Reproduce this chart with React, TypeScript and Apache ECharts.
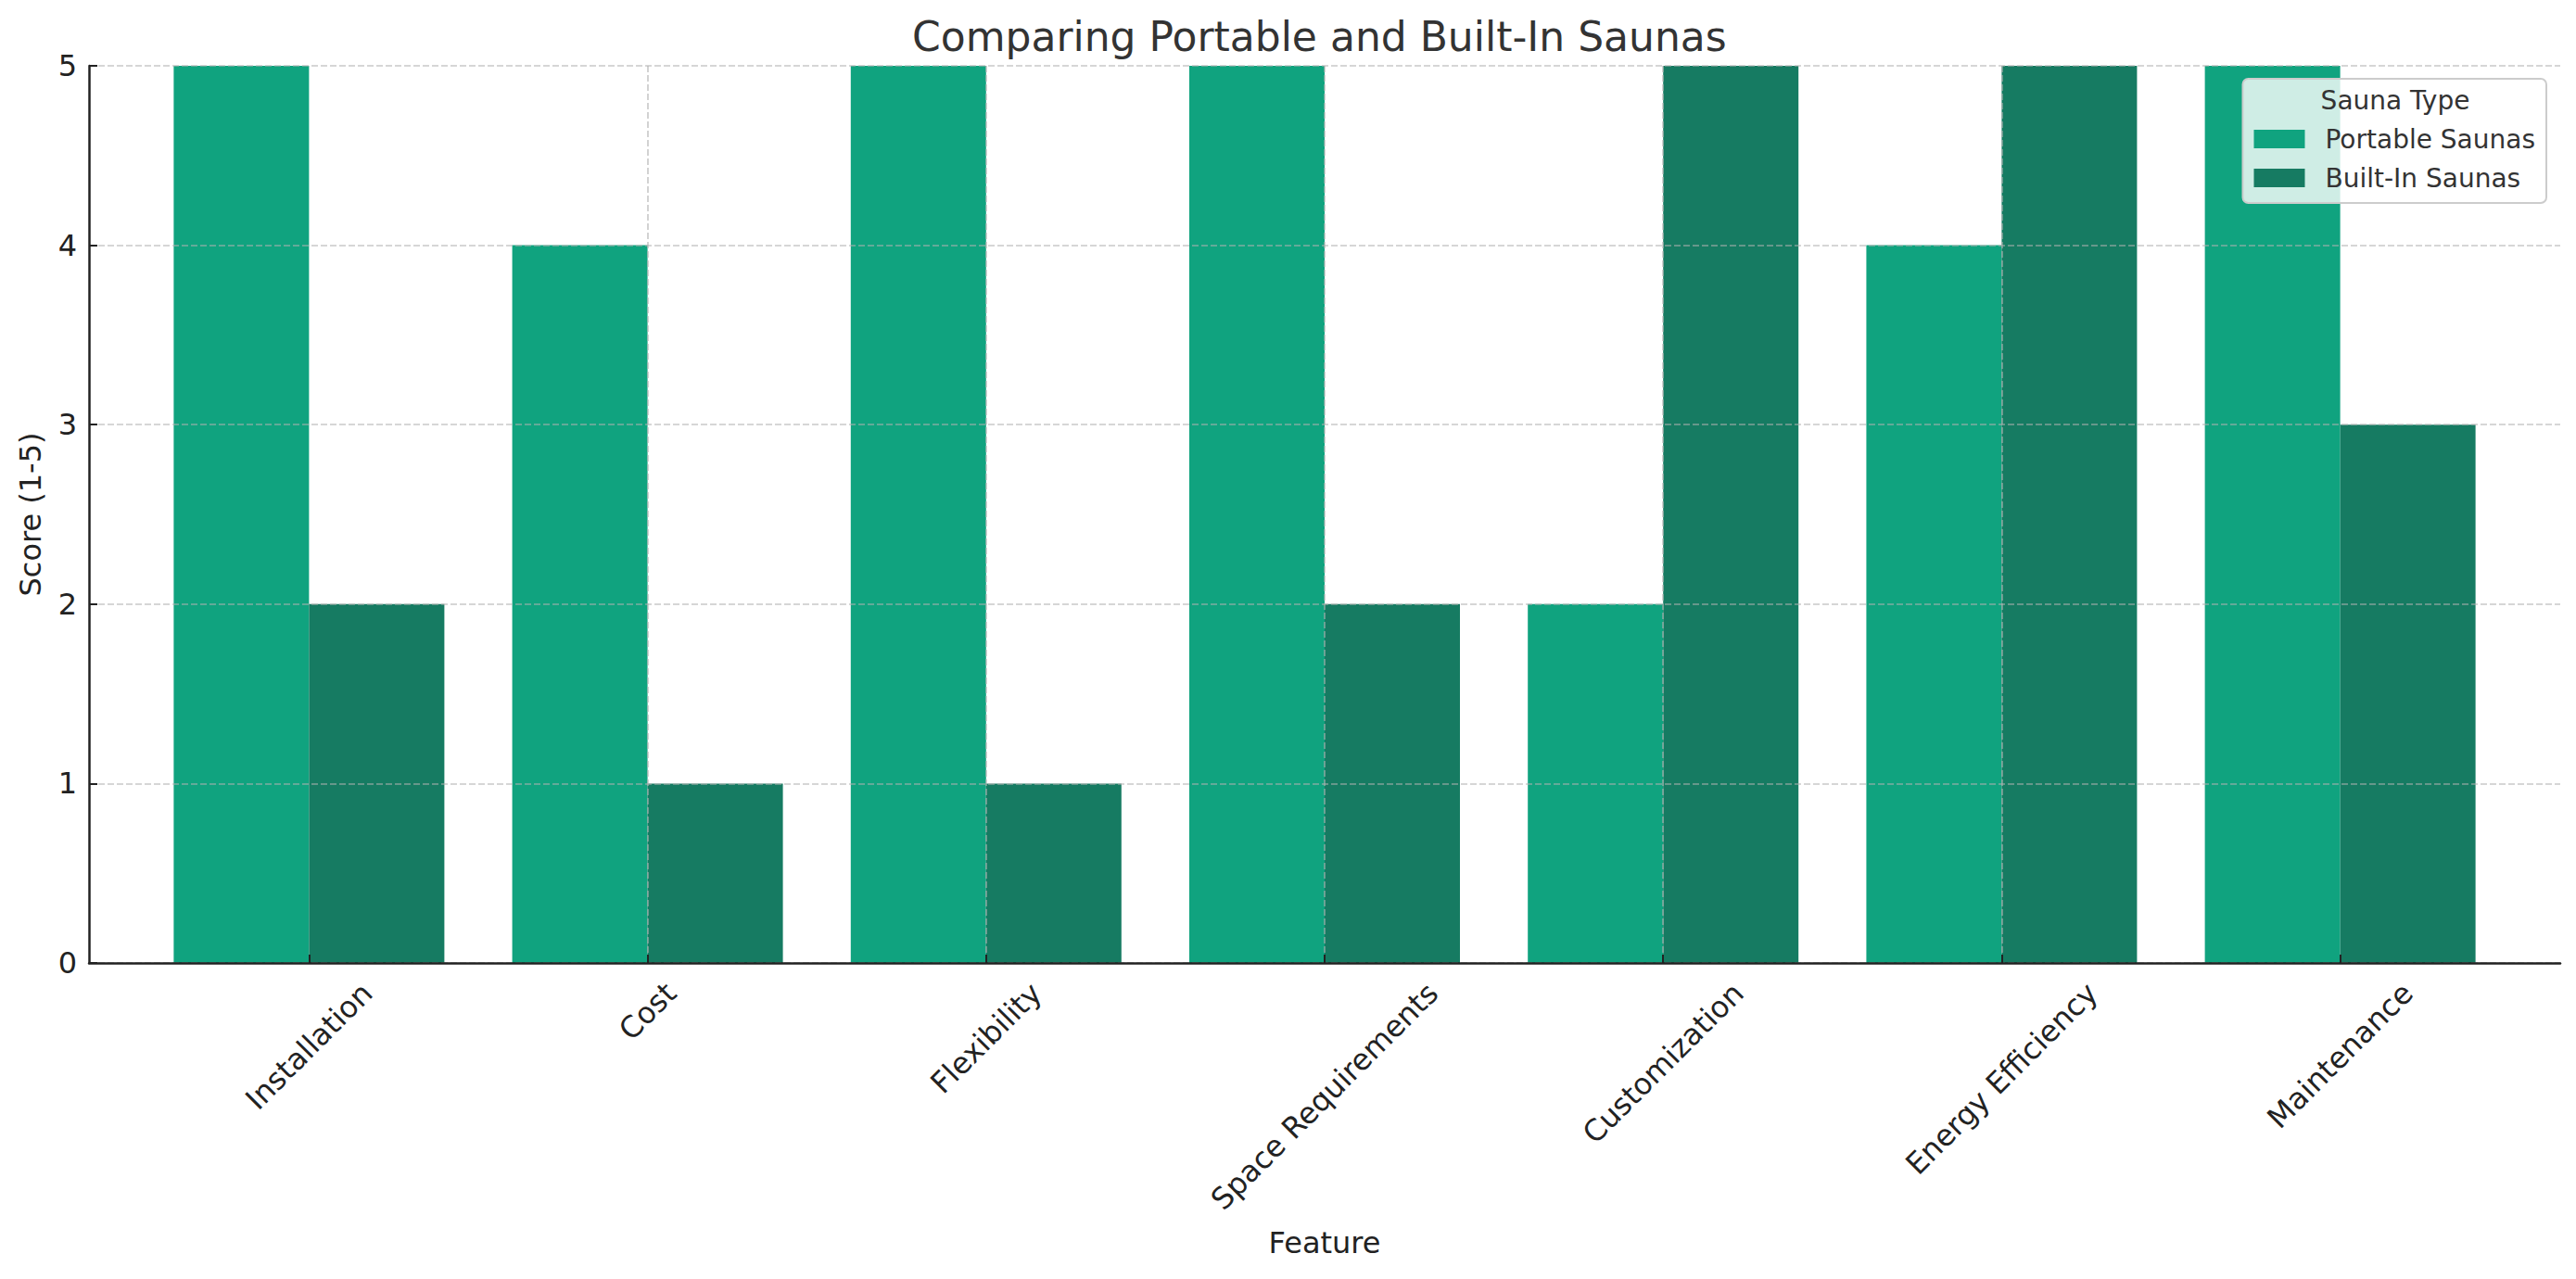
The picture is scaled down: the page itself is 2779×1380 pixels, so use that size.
import React, { useEffect, useRef } from "react";
import * as echarts from "echarts";

const categories = [
  "Installation",
  "Cost",
  "Flexibility",
  "Space Requirements",
  "Customization",
  "Energy Efficiency",
  "Maintenance",
];
const portableScores = [5, 4, 5, 5, 2, 4, 5];
const builtInScores = [2, 1, 1, 2, 5, 5, 3];
const yTicks = [0, 1, 2, 3, 4, 5];
const seriesNames = ["Portable Saunas", "Built-In Saunas"];
const legendTitle = "Sauna Type";
const chartTitle = "Comparing Portable and Built-In Saunas";
const xAxisTitle = "Feature";
const yAxisTitle = "Score (1-5)";

const W = 2779;
const H = 1380;
const FONT = "DejaVu Sans, sans-serif";
const TEXT = "#222222";
const PORTABLE = "#10A37F";
const BUILTIN = "#167B62";

export default function App() {
  const ref = useRef<HTMLDivElement>(null);

  useEffect(() => {
    const el = ref.current;
    if (!el) return;
    const chart = echarts.init(el, null, { renderer: "svg", width: W, height: H });

    const canvas = document.createElement("canvas");
    const ctx = canvas.getContext("2d")!;
    ctx.font = `32px ${FONT}`;
    const widths = categories.map((c) => ctx.measureText(c).width);
    const wMin = Math.min(...widths);
    const labelH = 37;
    const pad = 14;
    const margin = pad + ((wMin + labelH) * Math.SQRT1_2) / 2;
    const rich: Record<string, any> = {};
    categories.forEach((_, i) => {
      const p = 0.5 * (widths[i] - wMin);
      rich["c" + i] = {
        fontSize: 32,
        fontFamily: FONT,
        color: TEXT,
        padding: [p, p, 0, 0],
      };
    });
    const catIdx = categories.map((_, i) => i);

    const axisLineStyle = { color: TEXT, width: 2.5 };
    const tickStyle = { color: TEXT, width: 2 };
    const gridStyle = { color: "#b0b0b0", opacity: 0.7, type: [7, 3], width: 1.6 };

    const option: any = {
      animation: false,
      textStyle: { fontFamily: FONT },
      title: {
        text: chartTitle,
        left: 984,
        top: 17,
        padding: 0,
        textStyle: { fontSize: 44, fontWeight: "normal", color: "#333333", fontFamily: FONT },
      },
      legend: {
        data: seriesNames,
        orient: "vertical",
        align: "left",
        right: 32,
        top: 85,
        padding: [51, 12, 13, 12],
        itemWidth: 55,
        itemHeight: 20,
        itemGap: 14,
        icon: "rect",
        backgroundColor: "rgba(255,255,255,0.8)",
        borderColor: "#cccccc",
        borderWidth: 2,
        borderRadius: 6,
        z: 10,
        formatter: (name: string) => `{s|}{t|${name}}`,
        textStyle: {
          fontSize: 28,
          color: "#333333",
          fontFamily: FONT,
          rich: {
            s: { width: 17, fontSize: 28, fontFamily: FONT },
            t: { fontSize: 28, color: "#333333", fontFamily: FONT, align: "left" },
          },
        },
      },
      grid: {
        left: 96,
        right: 17,
        top: 71,
        bottom: 341,
        containLabel: false,
        outerBoundsMode: "none",
      },
      xAxis: {
        type: "value",
        min: -0.65,
        max: 6.65,
        minInterval: 1,
        maxInterval: 1,
        z: 5,
        name: xAxisTitle,
        nameLocation: "middle",
        nameGap: 286,
        nameMoveOverlap: false,
        nameTextStyle: { fontSize: 32, color: TEXT, fontFamily: FONT },
        axisLine: { show: true, onZero: false, lineStyle: axisLineStyle },
        axisTick: { show: true, inside: true, length: 9, customValues: catIdx, lineStyle: tickStyle },
        axisLabel: {
          customValues: catIdx,
          rotate: 45,
          align: "center",
          verticalAlign: "middle",
          margin,
          fontSize: 32,
          color: TEXT,
          fontFamily: FONT,
          hideOverlap: false,
          formatter: (v: number) => {
            const i = Math.round(v);
            if (Math.abs(v - i) > 1e-6 || i < 0 || i >= categories.length) return "";
            return `{c${i}|${categories[i]}}`;
          },
          rich,
        },
        splitLine: { show: true, showMinLine: false, showMaxLine: false, lineStyle: gridStyle },
      },
      yAxis: {
        type: "value",
        min: yTicks[0],
        max: yTicks[yTicks.length - 1],
        interval: 1,
        z: 5,
        name: yAxisTitle,
        nameLocation: "middle",
        nameGap: 47,
        nameMoveOverlap: false,
        nameTextStyle: { fontSize: 32, color: TEXT, fontFamily: FONT },
        axisLine: { show: true, onZero: false, lineStyle: axisLineStyle },
        axisTick: { show: true, inside: true, length: 9, lineStyle: tickStyle },
        axisLabel: { margin: 13, fontSize: 32, color: TEXT, fontFamily: FONT },
        splitLine: { show: true, lineStyle: gridStyle },
      },
      series: [
        {
          type: "bar",
          name: seriesNames[0],
          data: catIdx.map((i) => [i, portableScores[i]]),
          barWidth: 146,
          barGap: "0%",
          itemStyle: { color: PORTABLE },
          z: 2,
        },
        {
          type: "bar",
          name: seriesNames[1],
          data: catIdx.map((i) => [i, builtInScores[i]]),
          barWidth: 146,
          barGap: "0%",
          itemStyle: { color: BUILTIN },
          z: 2,
        },
      ],
      graphic: [
        {
          type: "text",
          x: 2584,
          y: 108,
          z: 100,
          style: {
            text: legendTitle,
            fontSize: 28,
            fontFamily: FONT,
            fill: "#333333",
            textAlign: "center",
            textVerticalAlign: "middle",
          },
        },
      ],
    };

    chart.setOption(option);
    return () => {
      chart.dispose();
    };
  }, []);

  return (
    <div
      ref={ref}
      style={{ position: "absolute", left: 0, top: 0, width: W, height: H, background: "#ffffff" }}
    />
  );
}
